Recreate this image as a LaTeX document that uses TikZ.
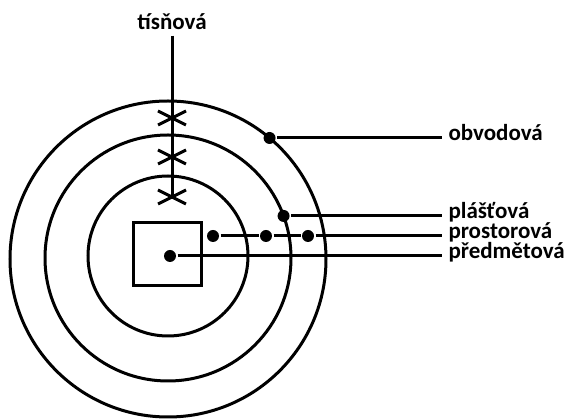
\documentclass[tikz,border=0pt]{standalone}
\usepackage{fontspec}
\setmainfont{Carlito}
\usetikzlibrary{positioning,shapes.misc}
\begin{document}
\begin{tikzpicture}[x=1pt,y=-1pt,line width=3pt,
  font=\fontsize{23}{26}\selectfont\bfseries,
  ring/.style={circle,draw,inner sep=0pt,outer sep=0pt,minimum size=#1},
  spot/.style={circle,fill,inner sep=0pt,minimum size=12pt},
  kriz/.style={cross out,draw,inner sep=0pt,outer sep=0pt,minimum width=28pt,minimum height=14pt},
  lab/.style={anchor=mid west,inner xsep=5pt,inner ysep=0pt}]
\useasboundingbox (0,0) rectangle (574,419);
\node[ring=316pt] (outer) at (168,259) {};
\node[ring=246pt] (middle) at (168,258) {};
\node[ring=160pt] (inner) at (168,256) {};
\node[draw,inner sep=0pt,minimum width=68pt,minimum height=63pt] (obj) at (167,254.5) {};
\node[kriz] (x1) at (172,118) {};
\node[kriz] (x2) at (172,157) {};
\node[kriz] (x3) at (172,197) {};
\node[anchor=base,inner sep=4pt] (tlab) at (172,30) {tísňová};
\draw (tlab) -- (x1.center) -- (x2.center) -- (x3.center);
\node[spot] (odot) at (outer.50) {};
\node[spot] (mdot) at (middle.20) {};
\node[spot] (sdot1) at (213,236) {};
\node[spot] (sdot2) at (266,236) {};
\node[spot] (sdot3) at (308,236) {};
\node[spot] (pdot) at (170,256) {};
\node[lab] (olab) at (odot -| 442,0) {obvodová};
\node[lab] (mlab) at (mdot -| 442,0) {plášťová};
\node[lab] (slab) at (sdot1 -| 442,0) {prostorová};
\node[lab] (plab) at (pdot -| 442,0) {předmětová};
\draw (odot) -- (olab.mid west);
\draw (mdot) -- (mlab.mid west);
\draw (sdot1) -- (sdot2) -- (sdot3) -- (slab.mid west);
\draw (pdot) -- (plab.mid west);
\end{tikzpicture}
\end{document}
